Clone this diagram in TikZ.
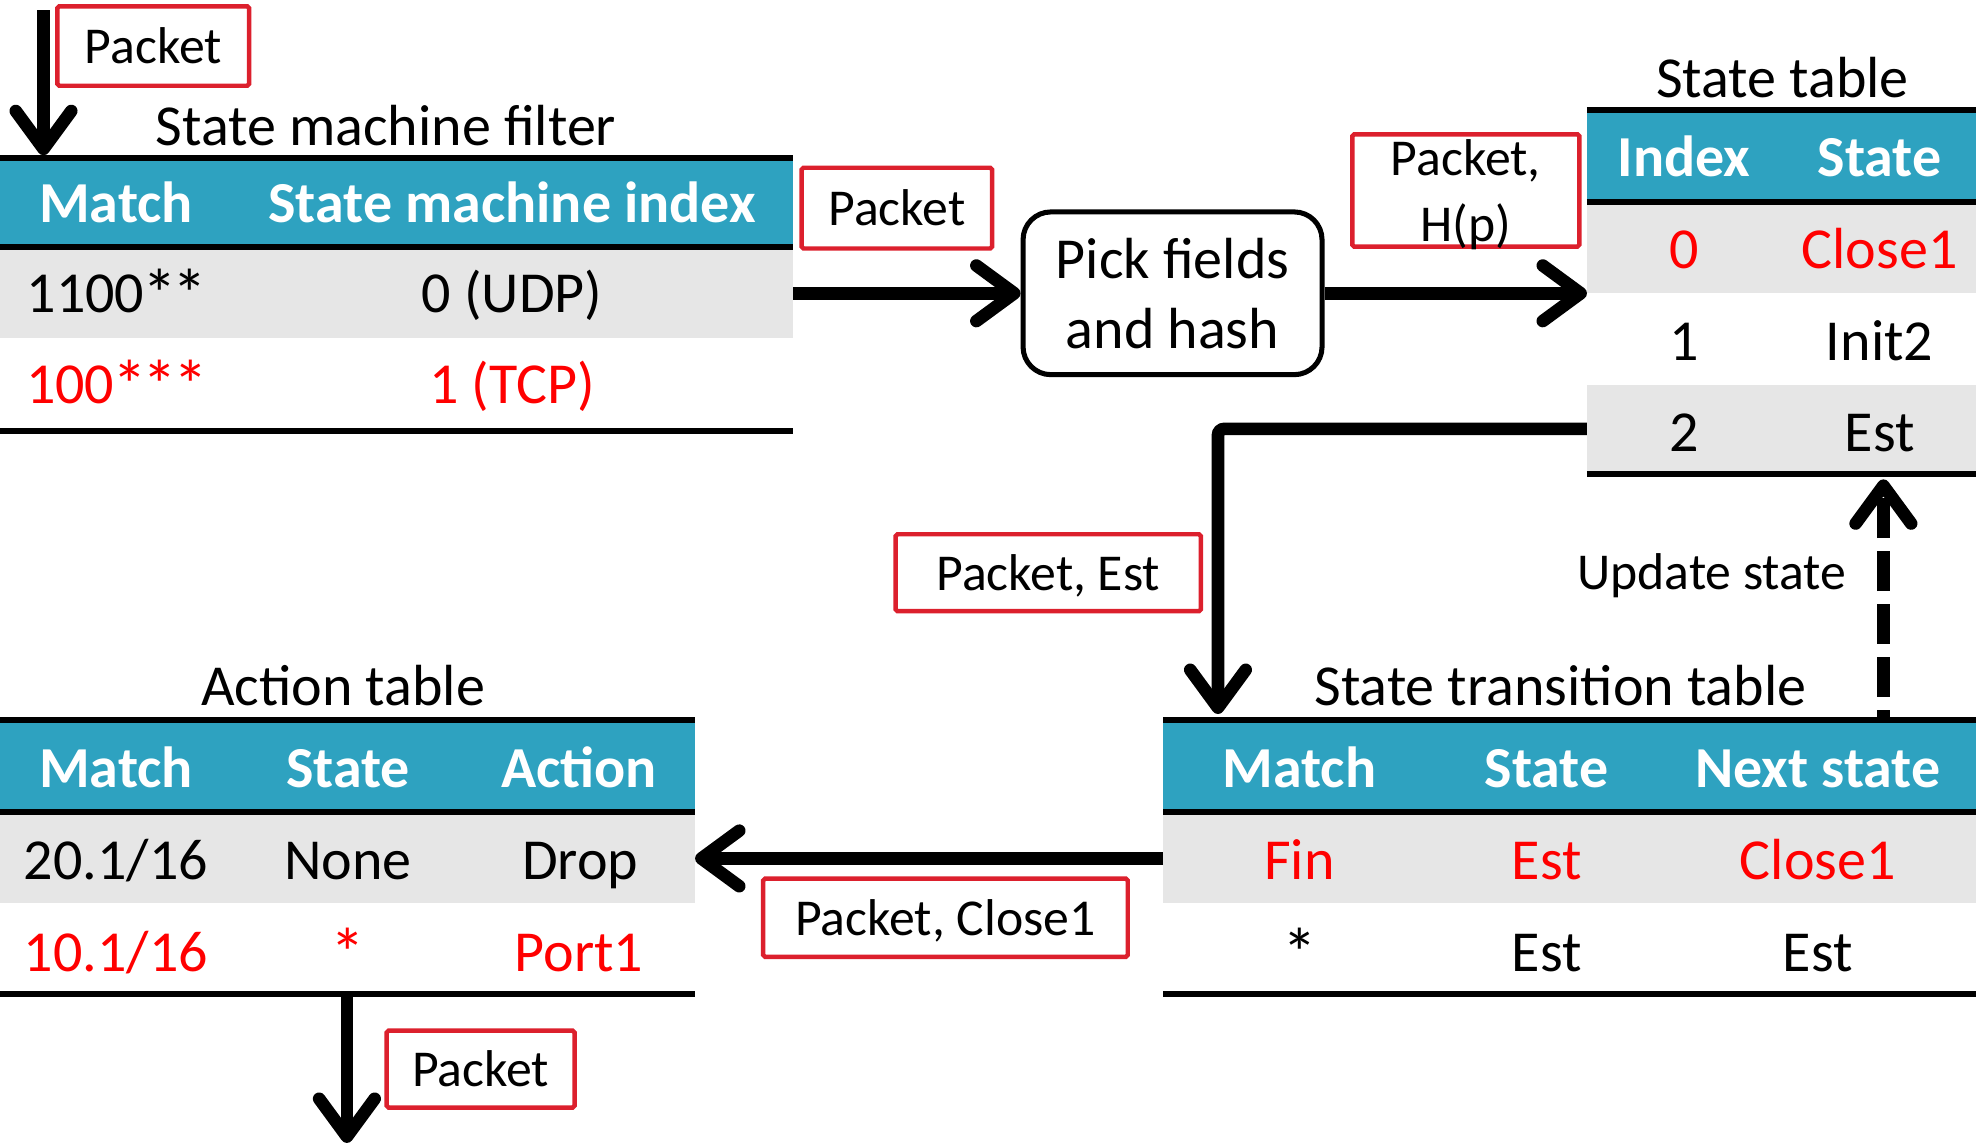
\documentclass[tikz,border=0pt]{standalone}
\usepackage{fontspec}
\usepackage{graphicx}
\setmainfont{Carlito}
\usetikzlibrary{arrows.meta}

\definecolor{hdr}{RGB}{46,162,192}
\definecolor{rowgray}{RGB}{230,230,230}
\definecolor{boxred}{RGB}{220,32,45}
\definecolor{txtred}{RGB}{255,0,0}

% a slightly larger, tightly set wildcard star for the match columns
\newcommand{\wild}{\kern-0.035em\raisebox{-0.1em}{\scalebox{1.2}{*}}\kern-0.035em}

\tikzset{
  bigfont/.style={font=\fontsize{46}{56}\selectfont},
  lblfont/.style={font=\fontsize{41}{50}\selectfont},
  cell/.style={bigfont, anchor=base, inner sep=0pt},
  head/.style={cell, text=white, font=\fontsize{46}{56}\selectfont\bfseries},
  hot/.style={cell, text=txtred},
  rulerow/.style={line width=4.8pt},
  tag/.style={lblfont, draw=boxred, line width=3.5pt, rounded corners=1.5pt,
              inner sep=0pt, align=center},
  tagline/.style={tag, text height=28pt, text depth=0pt},
  flow/.style={line width=10pt, -{Straight Barb[length=30pt,width=44pt,round]}},
}

\begin{document}
\begin{tikzpicture}[x=1pt,y=-1pt]
\useasboundingbox (0,0) rectangle (1568,907);

% ---------- State machine filter ----------
\fill[hdr] (0,125) rectangle (629,196);
\fill[rowgray] (0,196) rectangle (629,268);
\draw[rulerow] (0,125) -- (629,125);
\draw[rulerow] (0,196) -- (629,196);
\draw[rulerow] (0,341.5) -- (629,341.5);
\node[cell] (smfTitle) at (306,115) {State machine filter};
\node[head] (smfH1) at (92,176) {Match};
\node[head] (smfH2) at (406,176) {State machine index};
\node[cell] (smfA1) at (92,248) {1100\wild\wild};
\node[cell] (smfA2) at (406,248) {0 (UDP)};
\node[hot]  (smfB1) at (92,320) {100\wild\wild\wild};
\node[hot]  (smfB2) at (406,320) {1 (TCP)};

% ---------- State table ----------
\fill[hdr] (1258,87) rectangle (1566,160);
\fill[rowgray] (1258,160) rectangle (1566,232);
\fill[rowgray] (1258,305) rectangle (1566,376);
\draw[rulerow] (1258,87) -- (1566,87);
\draw[rulerow] (1258,160) -- (1566,160);
\draw[rulerow] (1258,376) -- (1566,376);
\node[cell] (stTitle) at (1413,77) {State table};
\node[head] (stH1) at (1335,140) {Index};
\node[head] (stH2) at (1490,140) {State};
\node[hot]  (stA1) at (1335,213) {0};
\node[hot]  (stA2) at (1490,213) {Close1};
\node[cell] (stB1) at (1335,286) {1};
\node[cell] (stB2) at (1490,286) {Init2};
\node[cell] (stC1) at (1335,358) {2};
\node[cell] (stC2) at (1490,358) {Est};

% ---------- State transition table ----------
\fill[hdr] (922,570.5) rectangle (1566,643.5);
\fill[rowgray] (922,643.5) rectangle (1566,716);
\draw[rulerow] (922,570.5) -- (1566,570.5);
\draw[rulerow] (922,643.5) -- (1566,643.5);
\draw[rulerow] (922,788) -- (1566,788);
\node[cell] (sttTitle) at (1237,559) {State transition table};
\node[head] (sttH1) at (1030,624) {Match};
\node[head] (sttH2) at (1226,624) {State};
\node[head] (sttH3) at (1441,624) {Next state};
\node[hot]  (sttA1) at (1030,697) {Fin};
\node[hot]  (sttA2) at (1226,697) {Est};
\node[hot]  (sttA3) at (1441,697) {Close1};
\node[cell] (sttB1) at (1030,770) {\wild};
\node[cell] (sttB2) at (1226,770) {Est};
\node[cell] (sttB3) at (1441,770) {Est};

% ---------- Action table ----------
\fill[hdr] (0,570.5) rectangle (551,643.5);
\fill[rowgray] (0,643.5) rectangle (551,716);
\draw[rulerow] (0,570.5) -- (551,570.5);
\draw[rulerow] (0,643.5) -- (551,643.5);
\draw[rulerow] (0,788) -- (551,788);
\node[cell] (actTitle) at (272,559) {Action table};
\node[head] (actH1) at (92,624) {Match};
\node[head] (actH2) at (276,624) {State};
\node[head] (actH3) at (459,624) {Action};
\node[cell] (actA1) at (92,697) {20.1/16};
\node[cell] (actA2) at (276,697) {None};
\node[cell] (actA3) at (460,697) {Drop};
\node[hot]  (actB1) at (92,770) {10.1/16};
\node[hot]  (actB2) at (276,770) {\wild};
\node[hot]  (actB3) at (459,770) {Port1};

% ---------- Hash block ----------
\node[draw, line width=4pt, rounded corners=22pt, bigfont, align=center,
      inner sep=0pt, minimum width=237pt, minimum height=129pt,
      font=\fontsize{46}{55.5}\selectfont] (pick) at (929.5,232.5)
      {Pick fields\\and hash};

% ---------- Packet labels ----------
\node[tagline, minimum width=152pt, minimum height=63pt] (tagIn) at (121.5,36.5) {Packet};
\node[tagline, minimum width=151pt, minimum height=64pt] (tagPkt) at (711,165) {Packet};
\node[tag, minimum width=180pt, minimum height=89pt,
      font=\fontsize{41}{52}\selectfont] (tagHash) at (1162,151) {Packet,\\\smash{H(p)}};
\node[tagline, minimum width=242pt, minimum height=61pt] (tagEst) at (831,454) {Packet, Est};
\node[tagline, minimum width=289pt, minimum height=62pt] (tagClose) at (749.5,727.5) {Packet, Close1};
\node[tagline, minimum width=149pt, minimum height=61pt] (tagOut) at (381,847.5) {Packet};
\node[lblfont, anchor=base, inner sep=0pt] (upd) at (1357,467) {Update state};

% ---------- Connector end points ----------
\coordinate (inTop) at (34.5,8);
\coordinate (smfTop) at (34.5,123);
\coordinate (smfOut) at (629,232.5);
\coordinate (stIn) at (1258,232.5);
\coordinate (stOut) at (1258,340);
\coordinate (sttIn) at (965.5,566);
\coordinate (sttUp) at (1493,569);
\coordinate (stBottom) at (1493,380);
\coordinate (sttOut) at (922,680.5);
\coordinate (actIn) at (551,680.5);
\coordinate (actOut) at (275,788);
\coordinate (pktOut) at (275,906);

% ---------- Connectors ----------
\draw[flow] (inTop) -- (smfTop);
\draw[flow] (smfOut) -- (pick.west);
\draw[flow] (pick.east) -- (stIn);
\draw[flow, rounded corners=5pt] (stOut) -| (sttIn);
\draw[flow, dash pattern=on 31.5pt off 10.5pt, dash phase=25.5pt] (sttUp) -- (stBottom);
\draw[flow] (sttOut) -- (actIn);
\draw[flow] (actOut) -- (pktOut);
\end{tikzpicture}
\end{document}
